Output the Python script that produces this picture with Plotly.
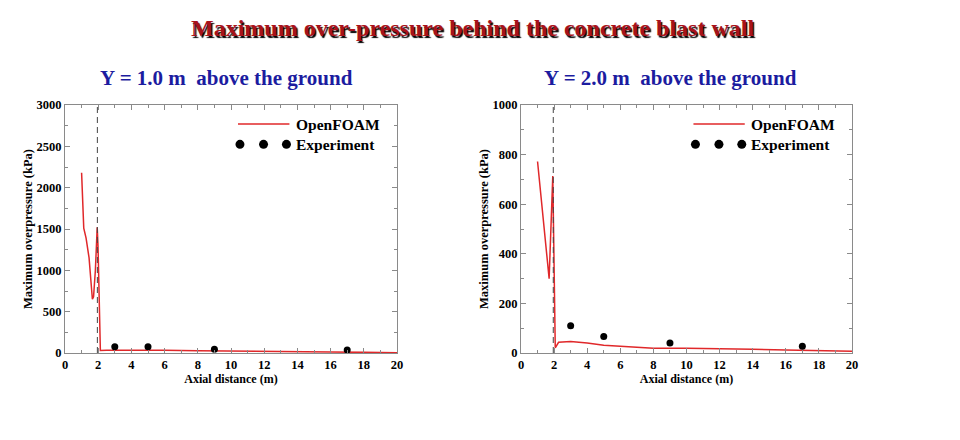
import plotly.graph_objects as go

# ---- data ----
x_foam_1m = [1.0, 1.13, 1.27, 1.45, 1.65, 1.72, 1.83, 1.94, 1.99, 2.05, 2.13, 2.5, 3, 4, 6, 8, 10, 12, 14, 16, 18, 20]
y_foam_1m = [2180, 1510, 1390, 1150, 650, 680, 1000, 1520, 1290, 800, 30, 32, 33, 33, 32, 28, 22, 18, 14, 11, 8, 4]
x_exp_1m = [3, 5, 9, 17]
y_exp_1m = [77, 77, 45, 36]

x_foam_2m = [1.0, 1.7, 1.92, 2.07, 2.27, 2.5, 3, 4, 5, 6, 8, 10, 12, 14, 16, 18, 20]
y_foam_2m = [772, 300, 714, 21, 43, 44, 46, 40, 31, 27, 19, 19, 18, 15, 12, 9, 7]
x_exp_2m = [3, 5, 9, 17]
y_exp_2m = [110, 67, 40, 27]

wall_x = 1.95

main_title = "Maximum over-pressure behind the concrete blast wall"
sub_titles = ["Y = 1.0 m  above the ground", "Y = 2.0 m  above the ground"]
x_title = "Axial distance (m)"
y_title = "Maximum overpressure (kPa)"

SERIF = "Liberation Serif"
RED = "#E0282A"
W, H = 960, 440

fig = go.Figure()

fig.add_trace(go.Scatter(x=x_foam_1m, y=y_foam_1m, mode="lines",
                         line=dict(color=RED, width=1.5), xaxis="x", yaxis="y", showlegend=False))
fig.add_trace(go.Scatter(x=x_exp_1m, y=y_exp_1m, mode="markers",
                         marker=dict(color="black", size=7), xaxis="x", yaxis="y", showlegend=False))
fig.add_trace(go.Scatter(x=x_foam_2m, y=y_foam_2m, mode="lines",
                         line=dict(color=RED, width=1.5), xaxis="x2", yaxis="y2", showlegend=False))
fig.add_trace(go.Scatter(x=x_exp_2m, y=y_exp_2m, mode="markers",
                         marker=dict(color="black", size=7), xaxis="x2", yaxis="y2", showlegend=False))

ydom = [1 - 353 / H, 1 - 105 / H]
axis_common = dict(
    showline=True, linecolor="#8a8a8a", linewidth=1, mirror="ticks",
    ticks="inside", ticklen=5, tickcolor="#8a8a8a",
    showgrid=False, zeroline=False, automargin=False,
    tickfont=dict(family=SERIF, size=12.5, color="black", weight="bold"),
)
xt_font = dict(family=SERIF, size=12, color="black", weight="bold")
yt_font = dict(family=SERIF, size=12.5, color="black", weight="bold")

fig.update_layout(
    width=W, height=H,
    margin=dict(l=0, r=0, t=0, b=0, autoexpand=False),
    paper_bgcolor="white", plot_bgcolor="white",
    showlegend=False,
    xaxis=dict(domain=[65 / W, 397 / W], range=[0, 20], dtick=2, anchor="y",
               minor=dict(dtick=1, ticks="inside", ticklen=3, tickcolor="#8a8a8a"),
               title=dict(text=x_title, standoff=0, font=xt_font),
               **axis_common),
    yaxis=dict(domain=ydom, range=[0, 3000], dtick=500, anchor="x",
               minor=dict(dtick=250, ticks="inside", ticklen=3, tickcolor="#8a8a8a"),
               title=dict(text=y_title, standoff=1, font=yt_font),
               **axis_common),
    xaxis2=dict(domain=[521 / W, 852 / W], range=[0, 20], dtick=2, anchor="y2",
                minor=dict(dtick=1, ticks="inside", ticklen=3, tickcolor="#8a8a8a"),
                title=dict(text=x_title, standoff=0, font=xt_font),
                **axis_common),
    yaxis2=dict(domain=ydom, range=[0, 1000], dtick=200, anchor="x2",
                minor=dict(dtick=100, ticks="inside", ticklen=3, tickcolor="#8a8a8a"),
                title=dict(text=y_title, standoff=1, font=yt_font),
                **axis_common),
)

annotations = [
    dict(text=main_title, xref="paper", yref="paper", x=472 / W, y=1 - 28 / H,
         xanchor="center", yanchor="middle", showarrow=False,
         font=dict(family=SERIF, size=24, color="#A8121A", weight="bold",
                   shadow="1.5px 1.5px 1px #000000")),
    dict(text=sub_titles[0], xref="paper", yref="paper", x=226 / W, y=1 - 78 / H,
         xanchor="center", yanchor="middle", showarrow=False,
         font=dict(family=SERIF, size=21, color="#1C1CA0", weight="bold")),
    dict(text=sub_titles[1], xref="paper", yref="paper", x=670 / W, y=1 - 78 / H,
         xanchor="center", yanchor="middle", showarrow=False,
         font=dict(family=SERIF, size=21, color="#1C1CA0", weight="bold")),
]

shapes = []
for xa, ya in [("x", "y"), ("x2", "y2")]:
    # blast wall position
    shapes.append(dict(type="line", xref=xa, yref=f"{ya} domain", x0=wall_x, x1=wall_x, y0=0, y1=1,
                       line=dict(color="#444444", width=1, dash="6px,4px")))
    # legend: line sample
    shapes.append(dict(type="line", xref=f"{xa} domain", yref=f"{ya} domain",
                       x0=0.521, x1=0.676, y0=0.923, y1=0.923,
                       line=dict(color=RED, width=1.5)))
    annotations.append(dict(text="OpenFOAM", xref=f"{xa} domain", yref=f"{ya} domain",
                            x=0.69, y=0.923, xanchor="left", yanchor="middle", showarrow=False,
                            font=dict(family=SERIF, size=15.5, color="black", weight="bold")))
    # legend: three dots
    for dx in [0.527, 0.598, 0.667]:
        shapes.append(dict(type="circle", xref=f"{xa} domain", yref=f"{ya} domain",
                           xsizemode="pixel", ysizemode="pixel",
                           xanchor=dx, yanchor=0.8415,
                           x0=-4.5, x1=4.5, y0=-4.5, y1=4.5,
                           fillcolor="black", line=dict(color="black", width=0)))
    annotations.append(dict(text="Experiment", xref=f"{xa} domain", yref=f"{ya} domain",
                            x=0.69, y=0.8415, xanchor="left", yanchor="middle", showarrow=False,
                            font=dict(family=SERIF, size=15.5, color="black", weight="bold")))

fig.update_layout(annotations=annotations, shapes=shapes)

fig.write_html("out.html", config={"displayModeBar": False},
               post_script="document.body.style.margin='0';document.body.style.overflow='hidden';")
